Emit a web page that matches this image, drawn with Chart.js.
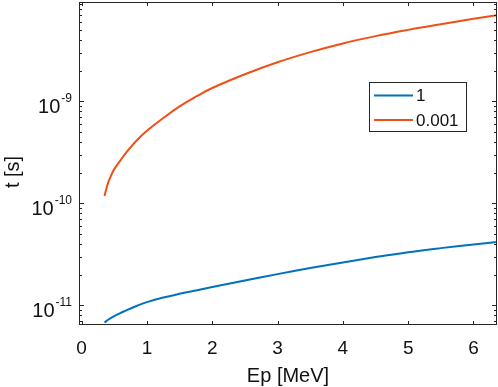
<!DOCTYPE html>
<html>
<head>
<meta charset="utf-8">
<script src="https://cdn.jsdelivr.net/npm/chart.js@4"></script>
<style>
  body { margin: 0; background: #fff; }
  canvas { display: block; }
</style>
</head>
<body>
<canvas id="chart" width="498" height="387"></canvas>
<script>
// energy [MeV] and transit times [s]
const energy = [0.35, 0.4, 0.45, 0.5, 0.6, 0.7, 0.85, 1, 1.25, 1.5, 1.75, 2, 2.5, 3, 3.5, 4, 4.5, 5, 5.5, 6, 6.36];
const tOne = [6.76e-12, 7.16e-12, 7.5e-12, 7.82e-12, 8.41e-12, 9.02e-12, 9.89e-12, 1.072e-11, 1.189e-11, 1.294e-11, 1.396e-11, 1.507e-11, 1.75e-11, 2.018e-11, 2.317e-11, 2.63e-11, 2.965e-11, 3.31e-11, 3.63e-11, 3.94e-11, 4.17e-11];
const tMilli = [1.175e-10, 1.55e-10, 1.86e-10, 2.16e-10, 2.66e-10, 3.24e-10, 4.17e-10, 5.13e-10, 6.84e-10, 8.91e-10, 1.109e-9, 1.349e-9, 1.84e-9, 2.41e-9, 3.03e-9, 3.69e-9, 4.35e-9, 5.01e-9, 5.69e-9, 6.43e-9, 6.97e-9];
const seriesLabels = ["1", "0.001"];
const xTicks = [0, 1, 2, 3, 4, 5, 6];
const yExponents = [-11, -10, -9];

const colors = ["#0072BD", "#F24E17"];
const axisColor = "#262626";
const font = "'Liberation Sans', Arial, Helvetica, sans-serif";

function toPoints(ys) {
  return energy.map((x, i) => ({ x: x, y: ys[i] }));
}

// MATLAB style box, inward ticks, labels and legend
const matlabAxes = {
  id: "matlabAxes",
  afterDatasetsDraw(chart) {
    const ctx = chart.ctx;
    const a = chart.chartArea;
    const xs = chart.scales.x;
    const ys = chart.scales.y;
    ctx.save();
    ctx.strokeStyle = axisColor;
    ctx.lineWidth = 1;
    ctx.strokeRect(a.left + 0.5, a.top + 0.5, a.right - a.left - 1, a.bottom - a.top - 1);

    ctx.beginPath();
    // x ticks, bottom and top
    xTicks.forEach(v => {
      const px = Math.round(xs.getPixelForValue(v)) + 0.5;
      ctx.moveTo(px, a.bottom); ctx.lineTo(px, a.bottom - 4);
      ctx.moveTo(px, a.top); ctx.lineTo(px, a.top + 4);
    });
    // y ticks, major and minor, left and right
    for (let e = -12; e <= -9; e++) {
      for (let k = 1; k <= 9; k++) {
        const v = k * Math.pow(10, e);
        if (v < ys.min || v > ys.max) continue;
        const py = Math.round(ys.getPixelForValue(v)) + 0.5;
        const len = k === 1 ? 5 : 3;
        ctx.moveTo(a.left, py); ctx.lineTo(a.left + len, py);
        ctx.moveTo(a.right, py); ctx.lineTo(a.right - len, py);
      }
    }
    ctx.stroke();

    ctx.fillStyle = "#111";
    // x tick labels
    ctx.font = "19px " + font;
    ctx.textAlign = "center";
    ctx.textBaseline = "alphabetic";
    xTicks.forEach(v => {
      ctx.fillText(String(v), xs.getPixelForValue(v), 354);
    });
    // y tick labels 10^n
    yExponents.forEach(e => {
      const py = ys.getPixelForValue(Math.pow(10, e));
      const sup = "-" + Math.abs(e);
      ctx.font = "12px " + font;
      const wSup = ctx.measureText(sup).width;
      ctx.font = "20px " + font;
      const wBase = ctx.measureText("10").width;
      const right = 72;
      ctx.textAlign = "left";
      ctx.fillText("10", right - wSup - 1 - wBase, py + 12);
      ctx.font = "12px " + font;
      ctx.fillText(sup, right - wSup, py + 1);
    });
    // axis titles
    ctx.font = "20px " + font;
    ctx.textAlign = "center";
    ctx.fillText("Ep [MeV]", (a.left + a.right) / 2, 382);
    ctx.save();
    ctx.translate(19, 172);
    ctx.rotate(-Math.PI / 2);
    ctx.fillText("t [s]", 0, 0);
    ctx.restore();

    // legend
    ctx.fillStyle = "#fff";
    ctx.fillRect(369.5, 82.5, 97, 49);
    ctx.strokeStyle = axisColor;
    ctx.strokeRect(369.5, 82.5, 97, 49);
    ctx.font = "17px " + font;
    ctx.textAlign = "left";
    ctx.textBaseline = "middle";
    chart.data.datasets.forEach((ds, i) => {
      const ly = 95.5 + i * 24.5;
      ctx.strokeStyle = ds.borderColor;
      ctx.lineWidth = 2;
      ctx.beginPath();
      ctx.moveTo(374, ly); ctx.lineTo(413, ly);
      ctx.stroke();
      ctx.fillStyle = "#111";
      ctx.fillText(ds.label, 416, ly + 1);
    });
    ctx.restore();
  }
};

new Chart(document.getElementById("chart"), {
  type: "line",
  data: {
    datasets: [
      { label: seriesLabels[0], data: toPoints(tOne), borderColor: colors[0] },
      { label: seriesLabels[1], data: toPoints(tMilli), borderColor: colors[1] }
    ]
  },
  options: {
    responsive: false,
    animation: false,
    devicePixelRatio: 1,
    layout: { padding: { top: 2, right: 1, left: 0, bottom: 0 } },
    elements: {
      point: { radius: 0 },
      line: { borderWidth: 2, tension: 0.4, fill: false }
    },
    plugins: { legend: { display: false }, tooltip: { enabled: false } },
    scales: {
      x: {
        type: "linear",
        min: -0.04,
        max: 6.36,
        grid: { display: false },
        border: { display: false },
        ticks: { display: false },
        afterFit(scale) { scale.height = 62; }
      },
      y: {
        type: "logarithmic",
        min: 6.4e-12,
        max: 9.4e-9,
        grid: { display: false },
        border: { display: false },
        ticks: { display: false },
        afterFit(scale) { scale.width = 79; }
      }
    }
  },
  plugins: [matlabAxes]
});
</script>
</body>
</html>
